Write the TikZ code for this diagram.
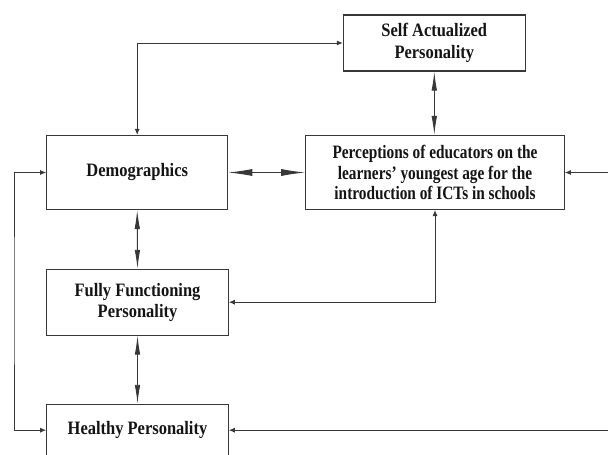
\documentclass[tikz,border=0pt]{standalone}
\usepackage{fontspec}
\setmainfont{Liberation Serif}[FakeStretch=0.87]
\newfontfamily\percfont{Liberation Serif}[FakeStretch=0.81]
\usetikzlibrary{arrows.meta}
\begin{document}
\begin{tikzpicture}[x=1bp,y=-1bp,
  box/.style={draw=black!78, line width=1.1bp, align=center, inner sep=0pt,
    font=\bfseries\fontsize{19}{21.5}\selectfont, text=black!92},
  con/.style={draw=black!78, line width=0.9bp},
  small/.style={con, >={Latex[length=6bp,width=5bp]}},
  long/.style={con, >={Latex[length=19bp,width=5.5bp]}},
  big/.style={con, >={Latex[length=24bp,width=7bp]}}]
\clip (0,0) rectangle (608,455);
\fill[white] (0,0) rectangle (608,455);
\node[box, minimum width=182bp, minimum height=56bp] (self) at (434.3,43) {Self Actualized\\Personality};
\node[box, minimum width=181bp, minimum height=74bp] (demo) at (137.2,172.5) {Demographics};
\node[box, minimum width=258.6bp, minimum height=74bp, font=\percfont\bfseries\fontsize{19}{21}\selectfont] (perc) at (435,172.5) {Perceptions of educators on the\\learners’ youngest age for the\\introduction of ICTs in schools};
\node[box, minimum width=181.6bp, minimum height=65.7bp] (fully) at (137.5,302.2) {Fully Functioning\\Personality};
\node[box, minimum width=181.6bp, minimum height=51.7bp] (healthy) at (137.5,430.2) {Healthy Personality};
\coordinate (lft) at (14,300);
\coordinate (r1) at (608,172.5);
\coordinate (r2) at (608,430.2);
\draw[small,<->] (demo.north) |- (self.west);
\draw[long,<->] (self.south) -- (self.south |- perc.north);
\draw[big,<->] (demo.east) -- (perc.west);
\draw[small,->] (r1) -- (perc.east);
\draw[long,<->] (demo.south) -- (fully.north);
\draw[small,<->] (perc.south) |- (fully.east);
\draw[long,<->] (fully.south) -- (healthy.north);
\draw[small,<->] (demo.west) -| (lft) |- (healthy.west);
\draw[small,->] (r2) -- (healthy.east);
\end{tikzpicture}
\end{document}
